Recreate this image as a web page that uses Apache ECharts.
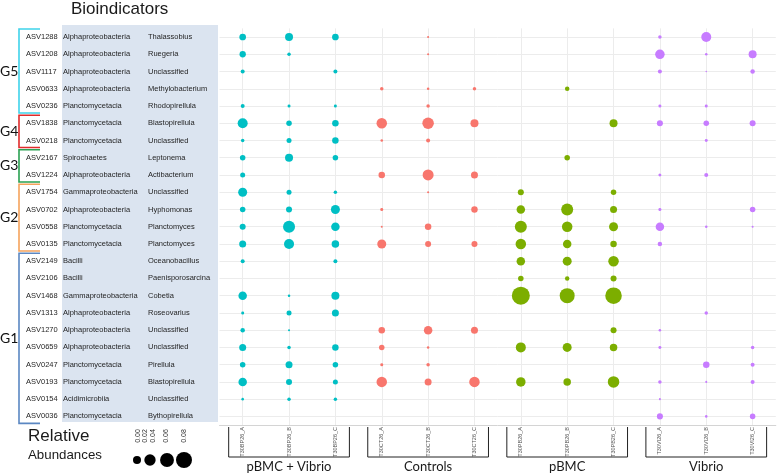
<!DOCTYPE html>
<html><head><meta charset="utf-8">
<script src="https://cdn.jsdelivr.net/npm/echarts@6/dist/echarts.min.js"></script>
<style>html,body{margin:0;padding:0;background:#fff}#c{width:780px;height:476px}</style>
</head><body><div id="c"></div>
<script>
// ---- data ----
const asvIds = ['ASV1288','ASV1208','ASV1117','ASV0633','ASV0236','ASV1838','ASV0218','ASV2167','ASV1224','ASV1754','ASV0702','ASV0558','ASV0135','ASV2149','ASV2106','ASV1468','ASV1313','ASV1270','ASV0659','ASV0247','ASV0193','ASV0154','ASV0036'];
const classes = ['Alphaproteobacteria','Alphaproteobacteria','Alphaproteobacteria','Alphaproteobacteria','Planctomycetacia','Planctomycetacia','Planctomycetacia','Spirochaetes','Alphaproteobacteria','Gammaproteobacteria','Alphaproteobacteria','Planctomycetacia','Planctomycetacia','Bacilli','Bacilli','Gammaproteobacteria','Alphaproteobacteria','Alphaproteobacteria','Alphaproteobacteria','Planctomycetacia','Planctomycetacia','Acidimicrobiia','Planctomycetacia'];
const genera = ['Thalassobius','Ruegeria','Unclassified','Methylobacterium','Rhodopirellula','Blastopirellula','Unclassified','Leptonema','Actibacterium','Unclassified','Hyphomonas','Planctomyces','Planctomyces','Oceanobacillus','Paenisporosarcina','Cobetia','Roseovarius','Unclassified','Unclassified','Pirellula','Blastopirellula','Unclassified','Bythopirellula'];
const samples = ['T30BP26_A','T30BP26_B','T30BP26_C','T30CT26_A','T30CT26_B','T30CT26_C','T30PB26_A','T30PB26_B','T30PB26_C','T30VI26_A','T30VI26_B','T30VI26_C'];
const treatments = ['pBMC + Vibrio','Controls','pBMC','Vibrio'];
const clusterNames = ['G5','G4','G3','G2','G1'];
const clusterFirstRow = [0,5,7,9,13];
const clusterLastRow = [4,6,8,12,22];
const legendBreaks = ['0.00','0.02','0.04','0.06','0.08'];
const legendValues = [0.02,0.04,0.06,0.08];

// relative abundances per sample (rows in asvIds order)
const T30BP26_A = [0.014,0.0124,0.005,0,0.005,0.0313,0.0038,0.0095,0.0078,0.0253,0.0095,0.0113,0.0153,0.005,0,0.0226,0.0028,0.0063,0.0153,0.0095,0.0226,0.002,0];
const T30BP26_B = [0.02,0.0038,0,0,0.0028,0.0095,0.0078,0.02,0,0.0078,0.0113,0.045,0.0313,0,0,0.002,0.0078,0.0013,0.0038,0.0153,0.0113,0.0038,0];
const T30BP26_C = [0.014,0,0.005,0,0.0028,0.0132,0.0132,0.0095,0,0.0038,0.0253,0.0226,0.0176,0.005,0,0.02,0.0153,0,0.0132,0.0095,0.0078,0.0038,0];
const T30CT26_A = [0,0,0,0.0038,0,0.0345,0.002,0,0.0132,0,0.0028,0.0013,0.0253,0,0,0,0,0.0132,0.0095,0.0028,0.0345,0,0];
const T30CT26_B = [0.0013,0.0013,0,0.002,0.0038,0.0413,0.005,0,0.0378,0.0013,0,0.0132,0.0113,0,0,0,0,0.0226,0.002,0.0038,0.0153,0,0];
const T30CT26_C = [0,0,0,0.0038,0,0.02,0,0,0.0153,0,0.0132,0,0.0113,0,0,0,0,0.0153,0,0,0.0345,0,0];
const T30PB26_A = [0,0,0,0,0,0,0,0,0,0.0113,0.0226,0.045,0.0345,0.0226,0.0095,0.101,0,0,0.0313,0,0.0282,0,0];
const T30PB26_B = [0,0,0,0.0063,0,0,0,0.0095,0,0,0.045,0.0345,0.0226,0.0253,0.0063,0.0703,0,0,0.0253,0,0.0176,0,0];
const T30PB26_C = [0,0,0,0,0,0.02,0,0,0,0.0095,0.0153,0.0253,0.0132,0.0345,0.0113,0.085,0,0.0113,0.0176,0,0.0413,0,0];
const T30VI26_A = [0.0038,0.0282,0.005,0,0.0028,0.0113,0,0,0.0028,0,0.0028,0.0226,0.0063,0,0,0,0,0.002,0.0028,0,0.0038,0.0013,0.0113];
const T30VI26_B = [0.0313,0.002,0.0007,0,0.0028,0.0095,0.0028,0,0.005,0,0,0.002,0,0,0,0,0.0038,0,0,0.0132,0.0013,0,0.002];
const T30VI26_C = [0,0.02,0.0063,0,0,0.0113,0,0,0,0,0.0095,0.0013,0,0,0,0,0,0,0.0038,0.005,0.005,0,0.0095];

// ---- chart ----
const columns = [T30BP26_A,T30BP26_B,T30BP26_C,T30CT26_A,T30CT26_B,T30CT26_C,T30PB26_A,T30PB26_B,T30PB26_C,T30VI26_A,T30VI26_B,T30VI26_C];
const colors = ['#00BFC4','#F8766D','#7CAE00','#C77CFF'];
const clusterColors = ['#3fd3ea','#e02b2b','#2aa152','#f5a35c','#5b87c2'];
const sizeOf = v => 56.6 * Math.sqrt(v);

const series = treatments.map((t, g) => {
  const data = [];
  for (let k = 0; k < 3; k++) {
    const ci = g * 3 + k;
    columns[ci].forEach((v, r) => { if (v > 0) data.push([ci, r, v]); });
  }
  return {
    type: 'scatter', name: t, data,
    symbolSize: d => sizeOf(d[2]),
    itemStyle: { color: colors[g], opacity: 1 },
    emphasis: { disabled: true }, silent: true, animation: false
  };
});

const chart = echarts.init(document.getElementById('c'), null, { renderer: 'canvas' });
const GL = 219.5;
const rowFont = { fontFamily: 'Liberation Sans', fontSize: 7.5, color: '#1f1f1f' };
function yax(offsetX, fmt, split) {
  return {
    type: 'category', data: asvIds, inverse: true, position: 'left', offset: offsetX,
    axisLine: { show: false }, axisTick: { show: false },
    axisLabel: Object.assign({ margin: 0, align: 'left', formatter: fmt }, rowFont),
    splitLine: { show: split, alignWithLabel: true, lineStyle: { color: '#ececec', width: 1 } }
  };
}
chart.setOption({
  animation: false,
  grid: { left: GL, right: 4.2, top: 28.4, bottom: 51, outerBoundsMode: 'none', containLabel: false },
  xAxis: {
    type: 'category', data: samples,
    axisLine: { show: true, lineStyle: { color: '#d4d4d4', width: 1 } },
    axisTick: { show: false },
    axisLabel: { rotate: 90, fontSize: 5.5, fontFamily: 'Liberation Sans', color: '#555', margin: 2, interval: 0 },
    splitLine: { show: true, alignWithLabel: true, lineStyle: { color: '#ececec', width: 1 } }
  },
  yAxis: [
    yax(GL - 26, (v, i) => v, true),
    yax(GL - 63, (v, i) => classes[i], false),
    yax(GL - 148, (v, i) => genera[i], false)
  ],
  series
});

// decorations computed from the chart's own coordinate system
const px = i => chart.convertToPixel({ gridIndex: 0 }, [i, 0])[0];
const py = r => chart.convertToPixel({ gridIndex: 0 }, [0, r])[1];
const els = [];
els.push({ type: 'rect', z: -10, shape: { x: 62, y: 25, width: 156, height: 397 }, style: { fill: '#dbe4f0' } });
els.push({ type: 'text', x: 71, y: 9, style: { text: 'Bioindicators', fontFamily: 'Liberation Sans', fontSize: 17, fill: '#1a1a1a', verticalAlign: 'middle', align: 'left' } });
clusterNames.forEach((n, c) => {
  const top = py(clusterFirstRow[c]) - 8;
  const bot = py(clusterLastRow[c]) + 7;
  els.push({ type: 'polyline', shape: { points: [[40, top], [19, top], [19, bot], [40, bot]] }, style: { stroke: clusterColors[c], lineWidth: 1.6, fill: null } });
  els.push({ type: 'text', x: 0, y: (top + bot) / 2, style: { text: n, fontFamily: 'Lato', fontSize: 14, fill: '#111', verticalAlign: 'middle', align: 'left' } });
});
treatments.forEach((t, g) => {
  const l = px(g * 3) - 14, r = px(g * 3 + 2) + 14;
  els.push({ type: 'polyline', shape: { points: [[l, 427], [l, 457], [r, 457], [r, 427]] }, style: { stroke: '#222', lineWidth: 1, fill: null } });
  els.push({ type: 'text', x: px(g * 3 + 1), y: 467, style: { text: t, fontFamily: 'Lato', fontSize: 13, fill: '#1a1a1a', align: 'center', verticalAlign: 'middle' } });
});
els.push({ type: 'text', x: 28, y: 436, style: { text: 'Relative', fontFamily: 'Liberation Sans', fontSize: 17, fill: '#1a1a1a', verticalAlign: 'middle' } });
els.push({ type: 'text', x: 28, y: 455, style: { text: 'Abundances', fontFamily: 'Liberation Sans', fontSize: 13.3, fill: '#1a1a1a', verticalAlign: 'middle' } });
const labX = [138, 145.5, 153, 166, 184];
legendBreaks.forEach((b, i) => {
  els.push({ type: 'text', x: labX[i], y: 436, rotation: Math.PI / 2, style: { text: b, fontFamily: 'Liberation Sans', fontSize: 7, fill: '#333', align: 'center', verticalAlign: 'middle' } });
});
const circX = [137, 150, 167, 184];
legendValues.forEach((v, i) => {
  els.push({ type: 'circle', shape: { cx: circX[i], cy: 460, r: sizeOf(v) / 2 }, style: { fill: '#000' } });
});
chart.setOption({ graphic: { elements: els } });
</script>
</body></html>
